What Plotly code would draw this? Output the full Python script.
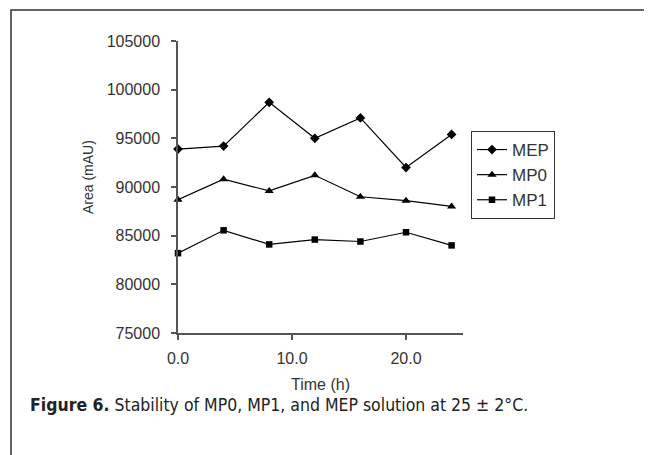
import plotly.graph_objects as go

time_h = [0, 4, 8, 12, 16, 20, 24]
mep = [93900, 94200, 98700, 95000, 97100, 92000, 95400]
mp0 = [88700, 90800, 89600, 91200, 89000, 88600, 88000]
mp1 = [83200, 85550, 84100, 84600, 84400, 85350, 84000]

x_ticks = [0, 10, 20]
x_ticklabels = ["0.0", "10.0", "20.0"]
y_ticks = [75000, 80000, 85000, 90000, 95000, 100000, 105000]

OFF = 8  # page body margin
W, H = 652 - OFF, 455 - OFF
L, R, T, B = 178 - OFF, 463 - OFF, 41 - OFF, 333 - OFF

def px(x):
    return (x - OFF - L) / (R - L)

def py(y):
    return (B - (y - OFF)) / (B - T)

fig = go.Figure()
series = [("MEP", mep, "diamond", 7.5), ("MP0", mp0, "triangle-up", 8), ("MP1", mp1, "square", 6.5)]
for name, vals, sym, sz in series:
    fig.add_trace(go.Scatter(
        x=time_h, y=vals, name=name, mode="lines+markers",
        line=dict(color="black", width=1.2),
        marker=dict(symbol=sym, size=sz, color="black"),
        cliponaxis=False,
    ))

fam = "Liberation Sans, Arial, sans-serif"
axis_font = dict(family=fam, size=16, color="#333333")

fig.update_layout(
    width=W, height=H,
    margin=dict(l=L, r=W - R, t=T, b=H - B, pad=0, autoexpand=False),
    paper_bgcolor="white", plot_bgcolor="white",
    font=axis_font,
    showlegend=True,
    legend=dict(
        xref="container", yref="container",
        x=(471 - OFF) / W, y=1 - (131 - OFF) / H, xanchor="left", yanchor="top",
        bordercolor="#333333", borderwidth=1, bgcolor="white",
        font=dict(family=fam, size=17, color="#333333"),
        tracegroupgap=0, itemwidth=30,
    ),
    xaxis=dict(
        range=[0, 25], tickvals=x_ticks, ticktext=x_ticklabels,
        showgrid=False, zeroline=False, showline=True, linecolor="#555555", linewidth=1.5,
        ticks="outside", ticklen=5, tickcolor="#555555", tickwidth=1.5,
        ticklabelstandoff=5, automargin=False,
        title=dict(text="Time (h)", standoff=13, font=dict(size=16)),
    ),
    yaxis=dict(
        range=[75000, 105000], tickvals=y_ticks,
        showgrid=False, zeroline=False, showline=True, linecolor="#555555", linewidth=1.5,
        ticks="outside", ticklen=5, tickcolor="#555555", tickwidth=1.5,
        ticklabelstandoff=8, automargin=False,
        tickformat="d",
    ),
    shapes=[
        dict(type="path", xref="paper", yref="paper",
             path=f"M {px(11)} {py(470)} L {px(11)} {py(10)} L {px(646)} {py(10)} L {px(646)} {py(470)}",
             line=dict(color="#333333", width=1.5)),
    ],
    annotations=[
        dict(text="Area (mAU)", xref="paper", yref="paper", x=px(88), y=py(177),
             xanchor="center", yanchor="middle", textangle=-90, showarrow=False,
             font=dict(family=fam, size=14, color="#333333")),
        dict(text="<b>Figure 6.</b> Stability of MP0, MP1, and MEP solution at 25 ± 2°C.",
             xref="paper", yref="paper", x=px(28), y=py(405),
             xanchor="left", yanchor="middle", showarrow=False,
             font=dict(family="DejaVu Sans Condensed, Liberation Sans Narrow, Liberation Sans, sans-serif", size=17.5, color="#222222")),
    ],
)

fig.write_html("out.html")
